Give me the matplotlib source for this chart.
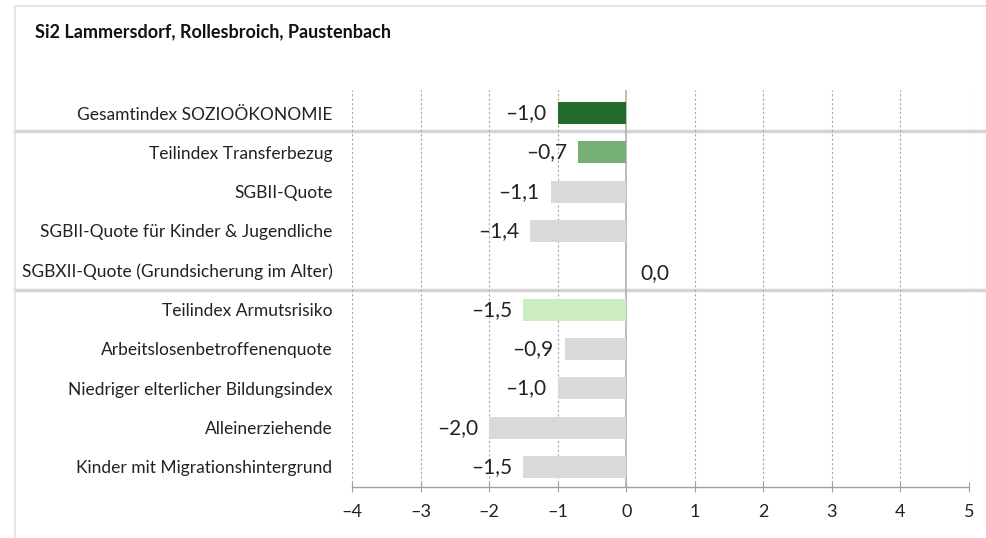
import matplotlib
matplotlib.use("Agg")
import matplotlib.pyplot as plt
from matplotlib.lines import Line2D
import matplotlib.transforms as mtransforms

title = "Si2 Lammersdorf, Rollesbroich, Paustenbach"
categories = [
    "Gesamtindex SOZIOÖKONOMIE",
    "Teilindex Transferbezug",
    "SGBII-Quote",
    "SGBII-Quote für Kinder & Jugendliche",
    "SGBXII-Quote (Grundsicherung im Alter)",
    "Teilindex Armutsrisiko",
    "Arbeitslosenbetroffenenquote",
    "Niedriger elterlicher Bildungsindex",
    "Alleinerziehende",
    "Kinder mit Migrationshintergrund",
]
values = [-1.0, -0.7, -1.1, -1.4, 0.0, -1.5, -0.9, -1.0, -2.0, -1.5]
colors = ["#236b2c", "#77b077", "#d9d9d9", "#d9d9d9", "#d9d9d9",
          "#cdecc0", "#d9d9d9", "#d9d9d9", "#d9d9d9", "#d9d9d9"]
xticks = [-4, -3, -2, -1, 0, 1, 2, 3, 4, 5]
separators = [0.46, 4.5]

plt.rcParams['font.family'] = ['Lato', 'DejaVu Sans']

W, H = 987, 538
fig = plt.figure(figsize=(W / 100, H / 100), dpi=100)
fig.patch.set_facecolor("white")

ax = fig.add_axes([352 / W, 1 - 487 / H, (969 - 352) / W, (487 - 90) / H])
ax.set_xlim(-4, 5)
ax.set_ylim(9.51, -0.585)

ypos = list(range(len(categories)))
for x in xticks:
    if x == 0:
        ax.axvline(x, color="#b0b0b0", lw=1.2, zorder=1)
    else:
        ax.axvline(x, color="#a8a8a8", lw=0.8, ls=(0, (2, 2)), zorder=1)

ax.barh(ypos, values, height=0.56, color=colors, zorder=2)

for y, v in zip(ypos, values):
    s = f"{v:.1f}".replace(".", ",").replace("-", "\u2013")
    if v < 0:
        ax.annotate(s, (v, y), xytext=(-8, 0), textcoords="offset points",
                    ha="right", va="center", fontsize=15, color="#222222")
    else:
        ax.annotate(s, (v, y), xytext=(10, -2), textcoords="offset points",
                    ha="left", va="center", fontsize=15, color="#222222")

ax.set_yticks(ypos)
ax.set_yticklabels(categories, fontsize=12.5, color="#222222")
ax.tick_params(axis="y", length=0, pad=14)
ax.set_xticks(xticks)
ax.set_xticklabels([str(x).replace("-", "\u2013") for x in xticks], fontsize=13, color="#222222")
ax.tick_params(axis="x", direction="inout", length=7, color="#a0a0a0", pad=9)

for s in ["top", "right", "left"]:
    ax.spines[s].set_visible(False)
ax.spines["bottom"].set_color("#a0a0a0")
ax.spines["bottom"].set_linewidth(1.0)

trans = mtransforms.blended_transform_factory(fig.transFigure, ax.transData)
for sy in separators:
    ax.add_line(Line2D([15 / W, 1.0], [sy, sy], transform=trans, color="#d4d4d4",
                       lw=2.5, clip_on=False, zorder=0))

# outer frame
fig.add_artist(Line2D([15 / W, 15 / W], [0, 1 - 6 / H], transform=fig.transFigure,
                      color="#e2e2e2", lw=1.2))
fig.add_artist(Line2D([15 / W, 1], [1 - 6 / H, 1 - 6 / H], transform=fig.transFigure,
                      color="#e2e2e2", lw=1.2))

fig.text(35 / W, 1 - 32 / H, title, fontsize=13, fontweight="bold",
         ha="left", va="center", color="#111111")

fig.savefig("out.png", dpi=100, facecolor="white")
